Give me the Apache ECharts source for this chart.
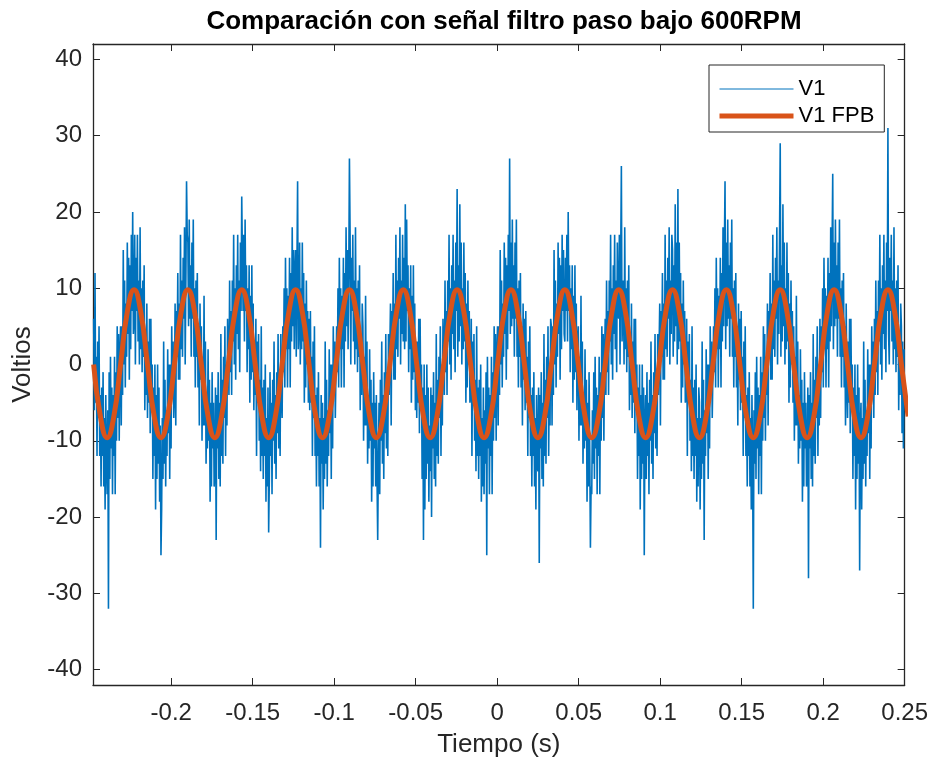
<!DOCTYPE html>
<html>
<head>
<meta charset="utf-8">
<title>Comparación con señal filtro paso bajo 600RPM</title>
<script src="https://cdn.jsdelivr.net/npm/echarts@6/dist/echarts.min.js"></script>
<style>
    html, body { margin: 0; padding: 0; background: #fff; }
    #main { width: 931px; height: 765px; }
</style>
</head>
<body>
<div id="main"></div>
<script type="text/javascript">
    // muestreo de V1 (s)
    var v1Inicio = -0.2476;
    var v1Paso = 0.000413;
    var v1 = [
        6,-6,12,-5,1,-12,3,-7,5,-12,-4,-16,-3,-12,-1,-16,-7,-19,-4,-13,
        -17,-6,-32,-1,-15,1,-11,-3,-17,-4,-12,1,-17,-1,-10,5,-7,4,-10,1,
        5,-8,5,-4,15,0,11,-3,8,1,16,4,14,-2,13,2,17,7,20,4,
        6,17,0,14,7,17,3,11,0,18,2,10,-1,11,1,13,-6,4,-4,8,

        -7,3,-5,6,-9,6,-6,0,-15,-3,-12,0,-19,-4,-15,0,-13,-3,-18,-8,
        -25,-19,-7,-15,3,-13,-2,-16,-6,-12,2,-9,0,-15,0,-11,5,-4,3,-7,
        -4,8,-8,7,1,12,-2,8,-2,17,2,11,1,14,6,18,0,11,24,17,
        16,5,19,6,13,1,16,6,19,1,10,-3,11,1,12,-3,5,-8,8,-2,

        5,-10,1,-8,9,-8,3,-13,-4,-11,2,-10,-2,-18,-5,-16,-1,-11,-5,-16,
        -14,-3,-23,-4,-11,-1,-15,-5,-16,4,-12,-2,-13,1,-7,5,-12,0,-8,6,
        6,-4,11,-1,7,-4,11,3,17,0,10,-2,13,4,17,2,11,-1,16,7,
        22,14,7,17,3,19,7,13,-1,10,2,13,-5,9,-2,13,-1,8,-6,3,

        -4,6,-12,3,-5,4,-10,-2,-14,5,-12,-3,-15,-2,-12,0,-18,-7,-16,-3,
        -22,-15,-1,-12,-5,-17,-2,-10,3,-13,-4,-15,-1,-9,4,-11,-1,-12,4,-4,
        -7,5,-1,10,-3,14,2,10,-3,9,2,14,-3,12,3,18,5,15,2,12,
        15,1,13,24,2,5,16,0,10,2,16,3,12,-5,8,-3,11,0,7,-5,

        6,-6,7,-5,1,-12,3,-7,5,-12,-4,-16,-3,-12,-1,-16,-7,-24,-4,-13,
        -5,-19,-7,-15,3,-13,-2,-16,-6,-12,2,-9,0,-15,0,-11,5,-4,3,-7,
        -7,5,-1,10,-3,14,2,10,-3,9,2,14,-3,12,3,18,5,15,2,12,
        27,17,0,14,7,17,3,11,0,18,2,10,-1,11,1,13,-6,4,-4,8,

        5,-10,1,-8,9,-8,3,-13,-4,-11,2,-10,-2,-18,-5,-16,-1,-11,-5,-16,
        -4,-15,-23,-12,-5,-17,-2,-10,3,-13,-4,-15,-1,-9,4,-11,-1,-12,4,-4,
        -4,8,-8,7,1,12,-2,8,-2,17,2,11,1,14,6,18,0,11,4,17,
        3,14,2,21,3,19,7,13,-1,10,2,13,-5,9,-2,13,-1,8,-6,3,

        -7,3,-5,6,-9,6,-6,0,-15,-3,-23,0,-19,-4,-15,0,-13,-3,-18,-8,
        -14,-3,-20,-4,-11,-1,-15,-5,-16,4,-12,-2,-13,1,-7,5,-12,0,-8,6,
        6,-4,11,-1,7,-4,11,3,17,0,10,-2,13,4,17,2,11,-1,16,7,
        23,1,13,3,21,5,16,0,10,2,16,3,12,-5,8,-3,11,0,7,-5,

        -4,6,-12,3,-5,4,-10,-2,-14,5,-12,-3,-15,-2,-12,0,-18,-7,-16,-3,
        -17,-6,-13,-1,-25,1,-11,-3,-17,-4,-12,1,-17,-1,-10,5,-7,4,-10,1,
        5,-8,5,-4,15,0,11,-3,8,1,16,4,14,-2,13,2,17,7,27,4,
        16,5,19,6,13,1,16,6,19,1,10,-3,11,1,12,-3,5,-8,8,-2,

        6,-6,7,-5,1,-12,3,-7,5,-12,-4,-16,-3,-12,-1,-16,-7,-19,-4,-13,
        -14,-3,-26,-4,-11,-1,-15,-5,-16,4,-12,-2,-13,1,-7,5,-12,0,-8,6,
        5,-8,5,-4,15,0,11,-3,8,1,16,4,14,-2,13,2,17,7,15,4,
        3,14,7,17,3,20,7,13,-1,10,2,13,-5,9,-2,13,-1,8,-6,3,

        5,-10,1,-8,9,-8,3,-13,-4,-11,2,-10,-2,-18,-5,-16,-1,-11,-24,-16,
        -17,-6,-13,-1,-15,1,-11,-3,-17,-4,-12,1,-17,-1,-10,5,-7,4,-10,1,
        6,-4,11,-1,7,-4,11,3,17,0,10,-2,13,4,17,2,11,-1,16,7,
        6,17,0,14,26,3,3,11,0,18,2,10,-1,11,1,13,-6,4,-4,8,

        -7,3,-5,6,-9,6,-6,0,-15,-3,-12,0,-19,-4,-15,0,-13,-3,-25,-8,
        -4,-15,-1,-12,-5,-17,-2,-10,3,-13,-4,-15,-1,-9,4,-11,-1,-12,4,-4,
        -4,8,-8,7,1,12,-2,8,-2,17,2,11,1,14,6,18,0,11,4,17,
        15,1,13,3,21,5,16,0,23,2,16,3,12,-5,8,-3,11,0,7,-5,

        -4,6,-12,3,-5,4,-10,-2,-14,5,-12,-3,-15,-2,-12,0,-18,-7,-16,-3,
        -5,-19,-7,-15,3,-13,-2,-23,-6,-12,2,-9,0,-15,0,-11,5,-4,3,-7,
        -7,5,-1,10,-3,14,2,10,-3,9,2,14,-3,12,3,18,5,15,24,2,
        16,5,19,6,13,1,16,6,19,1,10,-3,11,1,12,-3,5,-8,8,-2,

        6,-6,7,-5,1,-12,3,-7,5,-12,-4,-16,-3,-12,-1,-16,-7,-19,-4,-13,
        -32,-6,-13,-1,-15,1,-11,-3,-17,-4,-12,1,-17,-1,-10,5,-7,4,-10,1,
        -4,8,-8,7,1,12,-2,8,-2,17,2,11,1,14,6,18,0,11,4,17,
        29,1,13,3,21,5,16,0,10,2,16,3,12,-5,8,-3,11,0,7,-5,

        5,-10,1,-8,9,-8,3,-13,-4,-11,2,-10,-2,-18,-5,-16,-1,-11,-5,-16,
        -14,-3,-28,-4,-11,-1,-15,-5,-16,4,-12,-2,-13,1,-7,5,-12,0,-8,6,
        -7,5,-1,10,-3,14,2,10,-3,9,2,14,-3,12,3,18,5,15,25,2,
        16,5,19,6,13,1,16,6,19,1,10,-3,11,1,12,-3,5,-8,8,-2,

        -7,3,-5,6,-9,6,-6,0,-15,-3,-12,0,-19,-4,-15,0,-13,-3,-27,-8,
        -5,-19,-7,-15,3,-13,-2,-16,-6,-12,2,-9,0,-15,0,-11,5,-4,3,-7,
        6,-4,11,-1,7,-4,11,3,17,0,10,-2,13,4,17,2,11,-1,16,7,
        31,4,0,14,7,17,3,11,0,18,2,10,-1,11,1,13,-6,4,-4,8,

        5,-9,3,-11,2
    ];

    // salida del filtro paso bajo (voltios)
    var fpbInicio = -0.2476;
    var fpbPaso = 0.00413;
    var v1Fpb = [
        0,-6.8,-9.6,-6.8,0,6.9,9.8,6.9,
        0,-6.8,-9.6,-6.8,0,6.9,9.8,6.9,
        0,-6.8,-9.6,-6.8,0,6.9,9.8,6.9,
        0,-6.8,-9.6,-6.8,0,6.9,9.8,6.9,
        0,-6.8,-9.6,-6.8,0,6.9,9.8,6.9,
        0,-6.8,-9.6,-6.8,0,6.9,9.8,6.9,
        0,-6.8,-9.6,-6.8,0,6.9,9.8,6.9,
        0,-6.8,-9.6,-6.8,0,6.9,9.8,6.9,
        0,-6.8,-9.6,-6.8,0,6.9,9.8,6.9,
        0,-6.8,-9.6,-6.8,0,6.9,9.8,6.9,
        0,-6.8,-9.6,-6.8,0,6.9,9.8,6.9,
        0,-6.8,-9.6,-6.8,0,6.9,9.8,6.9,
        0,-6.8,-9.6,-6.8,0,6.9,9.8,6.9,
        0,-6.8,-9.6,-6.8,0,6.9,9.8,6.9,
        0,-6.8,-9.6,-6.8,0,6.9,9.8,6.9,
        0,-6.8
    ];

    var ticksX = [-0.2, -0.15, -0.1, -0.05, 0, 0.05, 0.1, 0.15, 0.2, 0.25];
    var ticksY = [-40, -30, -20, -10, 0, 10, 20, 30, 40];

    var fuente = '"Liberation Sans", Arial, Helvetica, sans-serif';
    var gris = '#262626';

    var datosV1 = v1.map(function (v, i) { return [v1Inicio + i * v1Paso, v]; });
    var datosFpb = v1Fpb.map(function (v, i) { return [fpbInicio + i * fpbPaso, v]; });

    function ejeX(pos, etiquetas) {
        return {
            type: 'value', position: pos, min: -0.248, max: 0.25,
            axisLine: { onZero: false, lineStyle: { color: gris, width: 1.3 } },
            axisTick: { inside: true, length: 7, customValues: ticksX, lineStyle: { color: gris } },
            axisLabel: { show: etiquetas, customValues: ticksX, color: gris, fontSize: 24, fontFamily: fuente, margin: 16,
                formatter: function (v) { return String(v); } },
            splitLine: { show: false }
        };
    }
    function ejeY(pos, etiquetas) {
        return {
            type: 'value', position: pos, min: -42, max: 42,
            axisLine: { onZero: false, lineStyle: { color: gris, width: 1.3 } },
            axisTick: { inside: true, length: 7, customValues: ticksY, lineStyle: { color: gris } },
            axisLabel: { show: etiquetas, customValues: ticksY, color: gris, fontSize: 24, fontFamily: fuente, margin: 11 },
            splitLine: { show: false }
        };
    }

    var xInf = ejeX('bottom', true);
    xInf.name = 'Tiempo (s)';
    xInf.nameLocation = 'middle';
    xInf.nameGap = 47;
    xInf.nameTextStyle = { color: gris, fontSize: 26, fontFamily: fuente };
    var yIzq = ejeY('left', true);
    yIzq.name = 'Voltios';
    yIzq.nameLocation = 'middle';
    yIzq.nameGap = 57;
    yIzq.nameTextStyle = { color: gris, fontSize: 26, fontFamily: fuente };

    var myChart = echarts.init(document.getElementById('main'));
    var option = {
        animation: false,
        backgroundColor: '#fff',
        title: {
            text: 'Comparación con señal filtro paso bajo 600RPM',
            left: 499, top: 4, textAlign: 'center',
            textStyle: { color: '#000', fontSize: 26, fontWeight: 'bold', fontFamily: fuente }
        },
        grid: { left: 93, right: 26, top: 44, bottom: 80 },
        legend: {
            left: 709, top: 65, orient: 'vertical',
            padding: [13, 10, 5, 8], itemGap: 5, itemWidth: 74, itemHeight: 14,
            borderColor: gris, borderWidth: 1, backgroundColor: '#fff', borderRadius: 0,
            itemStyle: { opacity: 0 },
            textStyle: { color: '#000', fontSize: 22, fontFamily: fuente },
            data: [
                { name: 'V1', lineStyle: { width: 1 } },
                { name: 'V1 FPB', lineStyle: { width: 5 } }
            ]
        },
        xAxis: [xInf, ejeX('top', false)],
        yAxis: [yIzq, ejeY('right', false)],
        series: [
            {
                name: 'V1', type: 'line', data: datosV1, symbol: 'none', z: 2,
                lineStyle: { color: '#0072BD', width: 1.6 }, itemStyle: { color: '#0072BD' }
            },
            {
                name: 'V1 FPB', type: 'line', data: datosFpb, symbol: 'none', smooth: true, z: 3,
                lineStyle: { color: '#D95319', width: 5 }, itemStyle: { color: '#D95319' }
            }
        ]
    };
    myChart.setOption(option);
</script>
</body>
</html>
